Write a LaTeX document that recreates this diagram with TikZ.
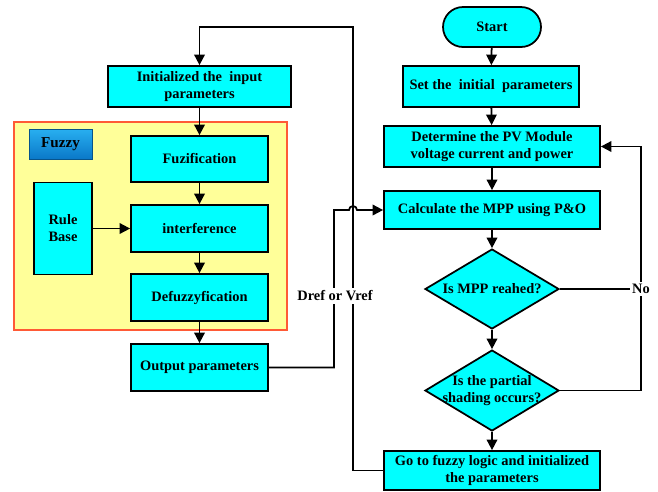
\documentclass[tikz,border=0pt]{standalone}
\usepackage{fontspec}
\setmainfont{Liberation Serif}
\usetikzlibrary{shapes.geometric,arrows.meta}

\definecolor{boxcyan}{RGB}{0,255,255}
\definecolor{frameyellow}{RGB}{255,255,153}
\definecolor{frameorange}{RGB}{255,90,54}
\definecolor{tagtop}{RGB}{40,175,240}
\definecolor{tagbottom}{RGB}{10,120,200}

\tikzset{
  every node/.style={font=\fontsize{8.2}{9.7}\selectfont\bfseries, align=center},
  procbox/.style={draw, line width=1pt, fill=boxcyan, inner sep=1pt},
  decbox/.style={diamond, draw, line width=1pt, fill=boxcyan, inner sep=0pt,
                 minimum width=2.68cm, minimum height=1.6cm},
  link/.style={line width=1pt},
  flow/.style={link, -{Triangle[length=6pt,width=6pt]}},
}

\begin{document}
\begin{tikzpicture}[x=0.02cm, y=-0.02cm]
\useasboundingbox (0,0) rectangle (658,491);

% ---- fuzzy controller (left) ----
\draw[line width=1.2pt, draw=frameorange, fill=frameyellow] (14,122) rectangle (287,330);
\node[draw=tagbottom!70!black, line width=0.4pt, top color=tagtop, bottom color=tagbottom,
      minimum width=1.26cm, minimum height=0.6cm, inner sep=0pt,
      font=\fontsize{8.6}{10}\selectfont\bfseries] (tag) at (60.5,144) {Fuzzy};

\node[procbox, minimum width=3.66cm, minimum height=0.82cm] (init) at (199.5,86.5)
  {Initialized the~ input\\parameters};
\node[procbox, minimum width=2.74cm, minimum height=0.92cm] (fuzi) at (199.5,159) {Fuzification};
\node[procbox, minimum width=2.74cm, minimum height=0.94cm] (infer) at (199.5,228.5) {interference};
\node[procbox, minimum width=2.74cm, minimum height=0.94cm] (defuz) at (199.5,297.5) {Defuzzyfication};
\node[procbox, minimum width=2.74cm, minimum height=0.94cm] (outp) at (199.5,367.5) {Output parameters};
\node[procbox, minimum width=1.16cm, minimum height=1.84cm] (rule) at (63,228.5) {Rule\\Base};

% ---- P&O tracking (right) ----
\node[procbox, rounded corners=0.4cm, minimum width=1.96cm, minimum height=0.8cm] (start) at (492,27) {Start};
\node[procbox, minimum width=3.52cm, minimum height=0.82cm] (setp) at (491,86.5)
  {Set the~ initial~ parameters};
\node[procbox, minimum width=4.32cm, minimum height=0.82cm] (determ) at (492,146.5)
  {Determine the PV Module\\voltage current and power};
\node[procbox, minimum width=4.32cm, minimum height=0.76cm] (calc) at (492,210)
  {Calculate the MPP using P\&O};
\node[decbox, label={center:Is MPP reahed?}] (d1) at (492,289) {};
\node[decbox, minimum height=1.62cm, label={[align=center]center:Is the partial\\shading occurs?}] (d2) at (492,390.5) {};
\node[procbox, minimum width=4.32cm, minimum height=0.78cm] (goto) at (492,470.5)
  {Go to fuzzy logic and initialized\\the parameters};

% ---- main flow ----
\draw[flow] (start) -- (setp);
\draw[flow] (setp) -- (determ);
\draw[flow] (determ) -- (calc);
\draw[flow] (calc) -- (d1);
\draw[flow] (d1) -- (d2);
\draw[flow] (d2) -- (goto);

\draw[flow] (init) -- (fuzi);
\draw[flow] (fuzi) -- (infer);
\draw[flow] (infer) -- (defuz);
\draw[flow] (defuz) -- (outp);
\draw[flow] (rule.east) -- (rule.east -| infer.west);

% ---- "No" feedback loop ----
\node[fill=white, inner sep=1pt] (no) at (641,289) {No};
\draw[link] (d1.east) -- (no.west);
\draw[link] (d2.east) -| (no.south);
\draw[flow] (no.north) |- (determ.east);

% ---- return path to the fuzzy controller ----
\coordinate (loop) at (353,27);
\draw[flow] (goto.west) -| (loop) -| (init.north);

% ---- reference signal, hopping over the return path ----
\coordinate (rise) at (334,210);
\coordinate (hop) at (349,210);
\draw[flow] (outp.east) -| (rise) -- (hop)
  arc[start angle=180, end angle=0, radius=0.08cm] -- (calc.west);

\node[fill=white, inner sep=1.5pt] (dref) at (335,296) {Dref or Vref};
\end{tikzpicture}
\end{document}
